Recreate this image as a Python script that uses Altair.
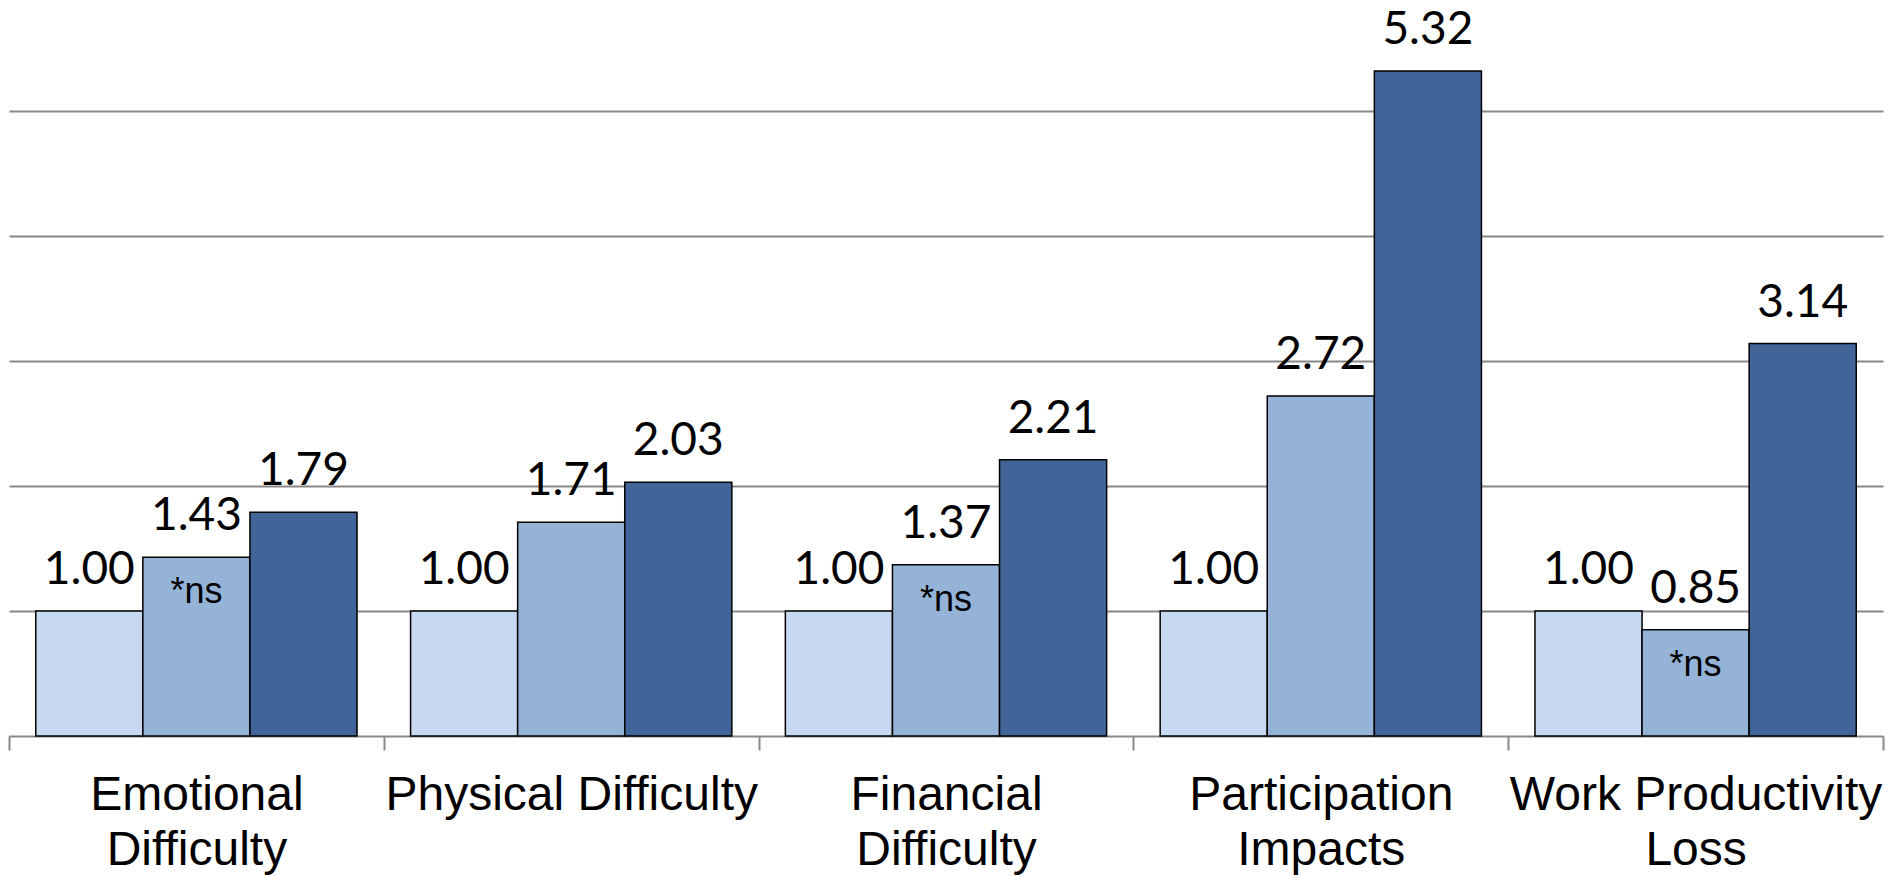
import altair as alt
import pandas as pd

categories = [
    "Emotional|Difficulty",
    "Physical Difficulty",
    "Financial|Difficulty",
    "Participation|Impacts",
    "Work Productivity|Loss",
]
groups = ["Group 1", "Group 2", "Group 3"]
group_colors = ["#C6D9F0", "#95B3D7", "#426599"]

emotional = [1.00, 1.43, 1.79]
physical = [1.00, 1.71, 2.03]
financial = [1.00, 1.37, 2.21]
participation = [1.00, 2.72, 5.32]
work = [1.00, 0.85, 3.14]

emotional_ns = [False, True, False]
physical_ns = [False, False, False]
financial_ns = [False, True, False]
participation_ns = [False, False, False]
work_ns = [False, True, False]

series = [emotional, physical, financial, participation, work]
flags = [emotional_ns, physical_ns, financial_ns, participation_ns, work_ns]

rows = []
for cat, vals, fl in zip(categories, series, flags):
    for g, v, f in zip(groups, vals, fl):
        rows.append({"category": cat, "group": g, "value": v, "note": "*ns" if f else ""})
df = pd.DataFrame(rows)

x = alt.X(
    "category:N",
    sort=categories,
    scale=alt.Scale(paddingInner=0, paddingOuter=0),
    axis=alt.Axis(
        title=None,
        labelAngle=0,
        labelExpr="split(datum.label, '|')",
        labelFont="Liberation Sans",
        labelFontSize=48,
        labelColor="black",
        labelLineHeight=55,
        labelPadding=21,
        labelLimit=600,
        labelOverlap=False,
        labelBound=False,
        tickSize=14,
        tickBand="extent",
        tickColor="#888888",
        tickWidth=2,
        domainColor="#888888",
        domainWidth=2,
        grid=False,
    ),
)
xoff = alt.XOffset("group:N", sort=groups, scale=alt.Scale(paddingInner=0, paddingOuter=0.25))
y = alt.Y(
    "value:Q",
    scale=alt.Scale(domain=[0, 5.888], nice=False, zero=True),
    axis=alt.Axis(
        values=[1, 2, 3, 4, 5],
        grid=True,
        gridColor="#888888",
        gridWidth=2,
        domain=False,
        ticks=False,
        labels=False,
        title=None,
    ),
)

base = alt.Chart(df)

bars = base.mark_bar(stroke="black", strokeWidth=1.5).encode(
    x=x,
    xOffset=xoff,
    y=y,
    color=alt.Color("group:N", sort=groups, scale=alt.Scale(domain=groups, range=group_colors), legend=None),
)

labels = base.mark_text(font="Lato", fontSize=46, dy=-27, baseline="alphabetic", color="black").encode(
    x=x,
    xOffset=xoff,
    y=y,
    text=alt.Text("value:Q", format=".2f"),
)

notes = base.transform_filter("datum.note != ''").mark_text(
    font="Liberation Sans", fontSize=36, dy=46, baseline="alphabetic", color="black"
).encode(
    x=x,
    xOffset=xoff,
    y=y,
    text="note:N",
)

chart = (
    alt.layer(bars, labels, notes)
    .properties(
        width=1874,
        height=736,
        padding={"left": 9, "top": 0, "right": 6, "bottom": 140},
        autosize=alt.AutoSizeParams(type="none"),
        background="white",
    )
    .configure_view(stroke=None)
)

chart.save("out.html", embed_options={"renderer": "svg", "actions": False})
